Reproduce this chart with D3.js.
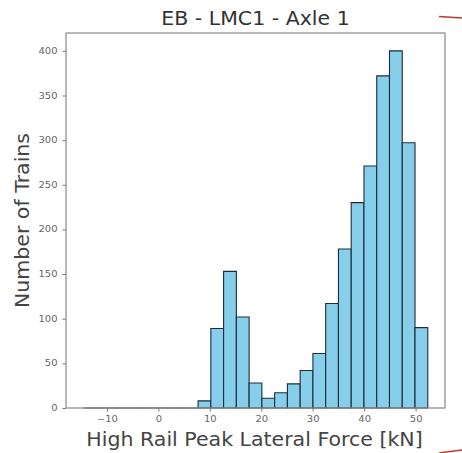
<!DOCTYPE html>
<html>
<head>
<meta charset="utf-8">
<script src="https://cdn.jsdelivr.net/npm/d3@7"></script>
<style>
  body { margin: 0; background: #fff; }
  svg { font-family: "DejaVu Sans", sans-serif; }
</style>
</head>
<body>
<div id="chart"></div>
<script>
// histogram bins (kN)
const binStart = -14.6
const binWidth = 2.48
const counts = [0, 0, 0, 0, 0, 0, 0, 0, 0,
  8, 89, 153, 102, 28, 11, 17, 27, 42, 61,
  117, 178, 230, 271, 372, 400, 297, 90]
const xTicks = [-10, 0, 10, 20, 30, 40, 50]
const yTicks = [0, 50, 100, 150, 200, 250, 300, 350, 400]

const W = 462, H = 453
const mLeft = 66, mRight = 445, mTop = 33, mBottom = 408
const tickStretch = 1.25, labelStretch = 1.08 // the picture is a bit wide

const bins = counts.map((c, i) => ({
  x0: binStart + i * binWidth,
  x1: binStart + (i + 1) * binWidth,
  n: c
}))

const lo = binStart, hi = binStart + counts.length * binWidth
const pad = (hi - lo) * 0.05
const ymax = d3.max(counts) * 1.05

var svg = d3.select('#chart').append('svg')
  .attr('width', W)
  .attr('height', H)

var x = d3.scaleLinear().domain([lo - pad, hi + pad]).range([mLeft, mRight])
var y = d3.scaleLinear().domain([0, ymax]).range([mBottom, mTop])

// bars (paths so empty bins still show their edge)
svg.append('g')
  .selectAll('path')
  .data(bins)
  .join('path')
  .attr('d', d => `M${x(d.x0)},${y(0)}V${y(d.n)}H${x(d.x1)}V${y(0)}Z`)
  .attr('fill', '#87CEEB')
  .attr('stroke', '#1c2c3a')
  .attr('stroke-width', 1.1)

// axes
const xa = svg.append('g')
  .attr('transform', `translate(0,${mBottom})`)
  .call(d3.axisBottom(x).tickValues(xTicks).tickSize(3.5).tickPadding(5).tickFormat(d => d < 0 ? '\u2212' + Math.abs(d) : d))
const ya = svg.append('g')
  .attr('transform', `translate(${mLeft},0)`)
  .call(d3.axisLeft(y).tickValues(yTicks).tickSize(3.5).tickPadding(5))

;[xa, ya].forEach(g => {
  g.select('.domain').remove()
  g.selectAll('.tick line').attr('stroke', '#777')
  g.selectAll('.tick text').attr('fill', '#666').style('font-size', '8px')
    .style('font-family', '"DejaVu Sans", sans-serif')
    .attr('transform', `scale(${tickStretch},1)`)
})
ya.selectAll('.tick text').attr('x', -8.5 / tickStretch)

// frame
svg.append('rect')
  .attr('x', mLeft).attr('y', mTop)
  .attr('width', mRight - mLeft).attr('height', mBottom - mTop)
  .attr('fill', 'none')
  .attr('stroke', '#888')
  .attr('stroke-width', 1.2)

// title and labels
const cx = (mLeft + mRight) / 2
svg.append('text')
  .attr('transform', `translate(${cx},25) scale(${labelStretch},1)`)
  .attr('text-anchor', 'middle')
  .style('font-size', '19px')
  .attr('fill', '#333')
  .text('EB - LMC1 - Axle 1')

svg.append('text')
  .attr('transform', `translate(${cx - 1},446) scale(${labelStretch},1)`)
  .attr('text-anchor', 'middle')
  .style('font-size', '19px')
  .attr('fill', '#444')
  .text('High Rail Peak Lateral Force [kN]')

svg.append('text')
  .attr('transform', `translate(29,${(mTop + mBottom) / 2}) rotate(-90) scale(${labelStretch},1)`)
  .attr('text-anchor', 'middle')
  .style('font-size', '19px')
  .attr('fill', '#444')
  .text('Number of Trains')

// red pen marks at the right edge
svg.append('line')
  .attr('x1', 439).attr('y1', 16.5).attr('x2', 462).attr('y2', 18)
  .attr('stroke', '#c0392b').attr('stroke-width', 1.4)
svg.append('line')
  .attr('x1', 439).attr('y1', 453).attr('x2', 462).attr('y2', 450)
  .attr('stroke', '#c0392b').attr('stroke-width', 1.4)
</script>
</body>
</html>
